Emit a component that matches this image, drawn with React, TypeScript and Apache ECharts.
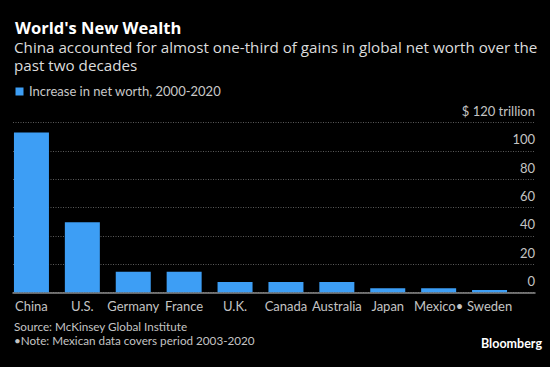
import React, { useEffect, useRef } from "react";
import * as echarts from "echarts";

const countries = ["China", "U.S.", "Germany", "France", "U.K.", "Canada", "Australia", "Japan", "Mexico\u2022", "Sweden"];
const netWorthIncrease = [113, 49.5, 14.5, 14.5, 7.3, 7.3, 7.3, 2.9, 2.9, 1.7];
const yTicks = [0, 20, 40, 60, 80, 100, 120];

const titleText = "World's New Wealth";
const subtitleText = "China accounted for almost one-third of gains in global net worth over the\npast two decades";
const legendText = "Increase in net worth, 2000-2020";
const sourceLine = "Source: McKinsey Global Institute";
const noteLine = "\u2022Note: Mexican data covers period 2003-2020";

const FONT = "Lato";
const HEAD_FONT = "'Open Sans'";
const BLUE = "#3d9ef5";

export default function App() {
  const ref = useRef<HTMLDivElement>(null);
  useEffect(() => {
    if (!ref.current) return;
    const chart = echarts.init(ref.current, null, { renderer: "svg" });
    const top = 122.7;
    const bottom = 74.7;
    chart.setOption({
      animation: false,
      backgroundColor: "#000000",
      textStyle: { fontFamily: FONT },
      grid: [
        { left: 13, right: 15, top, bottom, containLabel: false },
        { left: 6, right: 35, top, bottom, containLabel: false },
      ],
      xAxis: [
        {
          gridIndex: 0,
          type: "value",
          min: 0,
          max: 1,
          axisLine: { show: true, lineStyle: { color: "#8a8a8a", width: 1.5 } },
          axisTick: { show: false },
          axisLabel: { show: false },
          splitLine: { show: false },
        },
        {
          gridIndex: 1,
          type: "category",
          data: countries,
          axisLine: { show: false },
          axisTick: { show: false },
          axisLabel: { color: "#c4c4c4", fontSize: 13, fontFamily: FONT, margin: 7, interval: 0 },
        },
      ],
      yAxis: [
        {
          gridIndex: 0,
          type: "value",
          position: "right",
          min: yTicks[0],
          max: yTicks[yTicks.length - 1],
          interval: 20,
          axisLine: { show: false },
          axisTick: { show: false },
          splitLine: { show: true, lineStyle: { color: "#5a5a5a", type: [1, 1.5], width: 1 } },
          axisLabel: {
            inside: true,
            margin: 0,
            align: "right",
            verticalAlign: "bottom",
            padding: [0, 0, 5, 0],
            color: "#c4c4c4",
            fontSize: 13,
            fontFamily: FONT,
            formatter: (v: number) => (v === 120 ? "$ 120 trillion" : String(v)),
            showMinLabel: true,
            showMaxLabel: true,
          },
        },
        {
          gridIndex: 1,
          type: "value",
          min: yTicks[0],
          max: yTicks[yTicks.length - 1],
          show: false,
        },
      ],
      series: [
        {
          type: "bar",
          xAxisIndex: 1,
          yAxisIndex: 1,
          data: netWorthIncrease,
          barWidth: 35,
          itemStyle: { color: BLUE },
        },
      ],
      graphic: [
        {
          type: "text",
          left: 15,
          top: 19,
          style: { text: titleText, fill: "#ffffff", font: `bold 16.5px ${HEAD_FONT}` },
        },
        {
          type: "text",
          left: 14,
          top: 38,
          style: { text: subtitleText, fill: "#dcdcdc", font: `15.2px ${HEAD_FONT}`, lineHeight: 18 },
        },
        {
          type: "rect",
          shape: { x: 15.5, y: 87.5, width: 8, height: 8 },
          style: { fill: BLUE },
        },
        {
          type: "text",
          left: 29,
          top: 84,
          style: { text: legendText, fill: "#c8c8c8", font: `13px ${FONT}` },
        },
        {
          type: "text",
          left: 14,
          top: 320,
          style: { text: sourceLine, fill: "#c4c4c4", font: `11.7px ${FONT}` },
        },
        {
          type: "text",
          left: 14,
          top: 334,
          style: { text: noteLine, fill: "#c4c4c4", font: `11.7px ${FONT}` },
        },
        {
          type: "text",
          right: 8,
          top: 337,
          style: { text: "Bloomberg", fill: "#ffffff", font: `bold 12.5px ${FONT}` },
        },
      ],
    });
    return () => chart.dispose();
  }, []);
  return <div ref={ref} style={{ width: 550, height: 367, position: "fixed", left: 0, top: 0 }} />;
}
